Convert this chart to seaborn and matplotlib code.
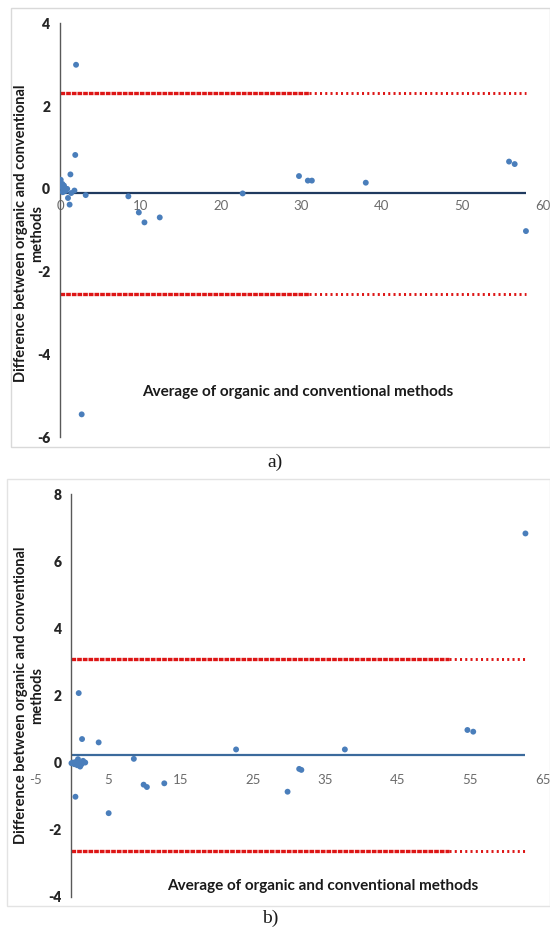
import numpy as np
import pandas as pd
import seaborn as sns
from matplotlib import pyplot as plt
from matplotlib.patches import Rectangle

# panel a) Bland-Altman values
avg_a = [0.1, 0.2, 0.3, 0.4, 0.5, 0.6, 0.7, 0.35, 0.9,
         1.0, 1.2, 1.3, 1.4, 1.8, 1.9, 2.0, 2.7, 3.2, 8.5, 9.8, 10.5, 12.4,
         22.7, 29.7, 30.8, 31.3, 38.0, 55.8, 56.5, 57.9]
diff_a = [0.22, 0.05, 0.12, -0.02, 0.08, 0.02, -0.05, -0.08, 0.0,
          -0.22, -0.38, 0.35, -0.1, -0.04, 0.82, 3.0, -5.45, -0.15, -0.18, -0.57, -0.81, -0.69,
          -0.11, 0.31, 0.2, 0.2, 0.15, 0.66, 0.6, -1.02]
lines_a = [-0.1, 2.32, -2.55]   # bias, upper LoA, lower LoA

# panel b)
avg_b = [0.0, 0.2, 0.4, 0.6, 0.8, 1.0, 1.2, 1.4, 1.6, 0.9,
         1.0, 1.46, 1.9, 0.55, 3.75, 5.13, 8.6, 9.95, 10.4, 12.8,
         22.7, 29.8, 31.4, 31.7, 37.7, 54.6, 55.4, 62.6]
diff_b = [-0.02, 0.0, -0.05, 0.02, -0.08, 0.0, -0.12, -0.05, 0.05, 0.1,
          2.07, 0.7, 0.0, -1.02, 0.6, -1.51, 0.11, -0.66, -0.73, -0.62,
          0.39, -0.87, -0.19, -0.22, 0.39, 0.97, 0.92, 6.83]
lines_b = [0.22, 3.08, -2.63]

xticks_a = [0, 10, 20, 30, 40, 50, 60]
yticks_a = [-6, -4, -2, 0, 2, 4]
xticks_b = [-5, 5, 15, 25, 35, 45, 55, 65]
yticks_b = [-4, -2, 0, 2, 4, 6, 8]

# where the red dotted line gets sparser
dense_end_a = 31
dense_end_b = 52

sns.set_theme(style='white')
plt.rcParams['font.family'] = ['Lato', 'DejaVu Sans']

fig = plt.figure(figsize=(5.5, 9.36), dpi=100)
ax_a = fig.add_axes([0.109, 0.533, 0.878, 0.442])
ax_b = fig.add_axes([0.064, 0.042, 0.923, 0.430])

ylab1 = 'Difference between organic and conventional'
ylab2 = 'methods'
xlab = 'Average of organic and conventional methods'


def draw(ax, avg, diff, lines, xlim, ylim, xticks, yticks, dense_end, bias_col, xl_pos):
    df = pd.DataFrame({'avg': avg, 'diff': diff})
    x0, x1 = 0, max(avg)
    bias, up, lo = lines
    ax.hlines(bias, x0, x1, color=bias_col, lw=1.6, zorder=2)
    for y in (up, lo):
        ax.hlines(y, x0, dense_end, color='#DD1515', lw=2.4, linestyles=(0, (1.4, 0.3)), zorder=2)
        ax.hlines(y, dense_end, x1, color='#DD1515', lw=2.1, linestyles=(0, (0.7, 1.1)), zorder=2)
    sns.scatterplot(data=df, x='avg', y='diff', ax=ax, color='#4A7EBB', s=18,
                    edgecolor='none', zorder=3)
    ax.set_xlim(*xlim)
    ax.set_ylim(*ylim)
    ax.set_xticks(xticks, [str(v) for v in xticks])
    ax.set_yticks(yticks, [str(v) for v in yticks])
    ax.set_xlabel('')
    ax.set_ylabel('')
    for s in ('top', 'right'):
        ax.spines[s].set_visible(False)
    ax.spines['left'].set_position(('data', 0))
    ax.spines['left'].set_color('#595959')
    ax.spines['left'].set_linewidth(1.0)
    ax.spines['bottom'].set_position(('data', 0))
    ax.spines['bottom'].set_color('none')
    ax.tick_params(axis='y', length=4, width=1, color='#595959', pad=3,
                   labelsize=10, labelcolor='#262626')
    ax.tick_params(axis='x', length=0, pad=8, labelsize=9.5, labelcolor='#6b6b6b')
    ax.text(xl_pos[0], xl_pos[1], xlab, transform=ax.transAxes, ha='center', va='center',
            fontsize=11, fontweight='bold', color='#1a1a1a')
    ax.patch.set_alpha(0)


draw(ax_a, avg_a, diff_a, lines_a, (0, 60), (-6, 4), xticks_a, yticks_a,
     dense_end_a, '#1F3A5F', (0.493, 0.109))
draw(ax_b, avg_b, diff_b, lines_b, (-5, 65), (-4, 8), xticks_b, yticks_b,
     dense_end_b, '#3B6A9C', (0.566, 0.026))

for yc in (233, 695):
    fig.text(21 / 550, 1 - yc / 936, ylab1, rotation=90, ha='center', va='center',
             fontsize=10.5, fontweight='bold', color='#1a1a1a')
    fig.text(37 / 550, 1 - yc / 936, ylab2, rotation=90, ha='center', va='center',
             fontsize=10.5, fontweight='bold', color='#1a1a1a')

# panel frames
fig.add_artist(Rectangle((11 / 550, 1 - 447 / 936), 539 / 550, 439 / 936,
                         transform=fig.transFigure, fill=False, ec='#d9d9d9', lw=1))
fig.add_artist(Rectangle((7 / 550, 1 - 906 / 936), 543 / 550, 427 / 936,
                         transform=fig.transFigure, fill=False, ec='#e3e3e3', lw=1))

fig.text(275 / 550, 1 - 462 / 936, 'a)', ha='center', va='center', fontsize=14,
         family='Liberation Serif', color='#1a1a1a')
fig.text(270 / 550, 1 - 918 / 936, 'b)', ha='center', va='center', fontsize=14,
         family='Liberation Serif', color='#1a1a1a')

# bold y tick labels, set last so nothing resets them
fig.canvas.draw()
for ax in (ax_a, ax_b):
    for t in ax.yaxis.get_ticklabels():
        t.set_fontweight('heavy')

fig.savefig('out.png', dpi=100)
